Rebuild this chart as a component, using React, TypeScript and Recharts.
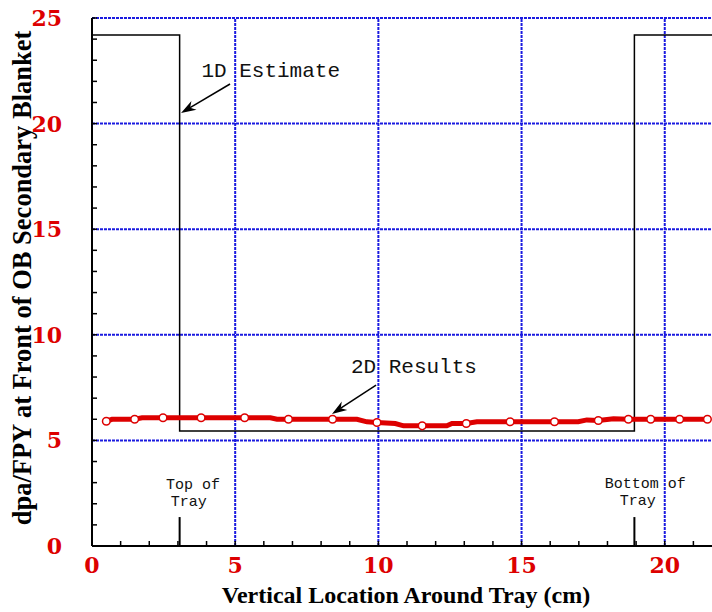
import React from "react"
import { LineChart, Line, XAxis, YAxis, ReferenceLine, ReferenceDot, Label } from "recharts"

// 1D estimate (step profile)
const oneDX = [0, 3.06, 18.94, 21.65]
const oneDY = [24.2, 5.45, 24.2, 24.2]

// 2D results, polyline vertices
const twoDX = [0.5, 0.7, 1.49, 1.75, 2.48, 3.81, 5.33, 6.23, 6.46, 6.86, 8.4, 9.25, 9.6, 9.95, 10.59, 10.88, 11.53, 12.39, 12.57, 13.07, 13.44, 14.6, 16.15, 16.98, 17.28, 17.68, 18.21, 18.73, 19.51, 20.52, 21.49]
const twoDY = [5.91, 6.0, 6.0, 6.07, 6.07, 6.07, 6.07, 6.07, 6.0, 6.0, 6.0, 6.0, 5.88, 5.85, 5.8, 5.69, 5.69, 5.69, 5.8, 5.8, 5.88, 5.88, 5.88, 5.88, 5.97, 5.94, 6.02, 6.0, 6.0, 6.0, 6.0]

// 2D results, marked points
const markX = [0.5, 1.49, 2.48, 3.81, 5.33, 6.86, 8.4, 9.95, 11.53, 13.07, 14.6, 16.15, 17.68, 18.73, 19.51, 20.52, 21.49]
const markY = [5.91, 6.0, 6.07, 6.07, 6.07, 6.0, 6.0, 5.85, 5.69, 5.8, 5.88, 5.88, 5.94, 6.0, 6.0, 6.0, 6.0]

const xTickLabels = [0, 5, 10, 15, 20]
const yTickLabels = [0, 5, 10, 15, 20, 25]
const xMinor = [0, 1, 2, 3, 4, 5, 6, 7, 8, 9, 10, 11, 12, 13, 14, 15, 16, 17, 18, 19, 20, 21]
const yMinor = [0, 1, 2, 3, 4, 5, 6, 7, 8, 9, 10, 11, 12, 13, 14, 15, 16, 17, 18, 19, 20, 21, 22, 23, 24, 25]
const xGrid = [0, 5, 10, 15, 20]
const yGrid = [0, 5, 10, 15, 20, 25]

// annotations (data coordinates)
const noteTexts = ["1D Estimate", "2D Results"]
const noteX = [3.82, 9.04]
const noteY = [22.2, 8.19]
const arrowFrom = [[4.82, 21.875], [9.92, 7.62]]
const arrowTo = [[3.11, 20.5], [8.38, 6.25]]

const trayEdgeX = [3.06, 18.94]
const trayMarkTop = 1.37
const trayTexts = ["Top of", "Tray", "Bottom of", "Tray"]
const trayTextX = [3.53, 3.38, 19.32, 19.06]
const trayTextY = [2.72, 1.91, 2.76, 1.95]

const oneD = oneDX.map((x, i) => ({ x, y: oneDY[i] }))
const twoD = twoDX.map((x, i) => ({ x, y: twoDY[i] }))
const marks = markX.map((x, i) => ({ x, y: markY[i] }))

const red = "#dd0000"
const gridBlue = "#1a1ae0"
const tickFont = { fontFamily: "DejaVu Serif", fontWeight: 700, fontSize: 22, fill: red }
const titleFont = { fontFamily: "Liberation Serif", fontWeight: 700, fill: "#000" }
const monoFont = { fontFamily: "Liberation Mono", fill: "#111" }

const XTick = (p: any) => {
  const { x, y, payload } = p
  return (
    <g>
      <line x1={x} y1={y} x2={x} y2={y - 5} stroke="#000" strokeWidth={1.5} />
      {xTickLabels.includes(payload.value) && (
        <text x={x} y={y + 27} textAnchor="middle" style={tickFont}>{payload.value}</text>
      )}
    </g>
  )
}

const TopTick = (p: any) => {
  const { x, y } = p
  return <line x1={x} y1={y} x2={x} y2={y + 5} stroke="#000" strokeWidth={1.5} />
}

const YTick = (p: any) => {
  const { x, y, payload } = p
  return (
    <g>
      <line x1={x} y1={y} x2={x + 5} y2={y} stroke="#000" strokeWidth={1.5} />
      {yTickLabels.includes(payload.value) && (
        <text x={x - 30} y={y + 8} textAnchor="end" style={tickFont}>{payload.value}</text>
      )}
    </g>
  )
}

const XTitle = (p: any) => {
  const vb = p.viewBox || { x: 92, y: 546, width: 620, height: 66 }
  const cx = vb.x + vb.width / 2 + 4
  return (
    <text x={cx} y={vb.y + vb.height - 9} textAnchor="middle" style={{ ...titleFont, fontSize: 24 }}>
      Vertical Location Around Tray (cm)
    </text>
  )
}

const YTitle = (p: any) => {
  const vb = p.viewBox || { x: 0, y: 18, width: 92, height: 528 }
  const bx = vb.x + 31
  const cy = vb.y + vb.height / 2 - 4
  return (
    <text x={bx} y={cy} transform={`rotate(-90, ${bx}, ${cy})`} textAnchor="middle" style={{ ...titleFont, fontSize: 26.5 }}>
      dpa/FPY at Front of OB Secondary Blanket
    </text>
  )
}

const Arrow = (p: any) => {
  const { x1, y1, x2, y2 } = p
  const a = Math.atan2(y2 - y1, x2 - x1)
  const c = Math.cos(a), s = Math.sin(a)
  const len = 15, half = 5
  const bx = x2 - len * c, by = y2 - len * s
  const nx = x2 - len * 0.7 * c, ny = y2 - len * 0.7 * s
  const pts = `${x2},${y2} ${bx - half * s},${by + half * c} ${nx},${ny} ${bx + half * s},${by - half * c}`
  return (
    <g>
      <line x1={x1} y1={y1} x2={nx} y2={ny} stroke="#000" strokeWidth={1.5} />
      <polygon points={pts} fill="#000" />
    </g>
  )
}

const noteShape = (text: string, size: number, anchor: string) => (p: any) => (
  <text x={p.cx} y={p.cy} textAnchor={anchor} style={{ ...monoFont, fontSize: size }}>{text}</text>
)

const Marker = (p: any) => (
  <circle cx={p.cx} cy={p.cy} r={3.8} fill="#fff" stroke={red} strokeWidth={1.5} />
)

export default function App() {
  return (
    <div style={{ position: "absolute", left: 0, top: 0, background: "#fff" }}>
      <LineChart width={712} height={612} margin={{ top: 18, right: 0, bottom: 0, left: 0 }}>
        <XAxis
          dataKey="x"
          type="number"
          domain={[0, 21.65]}
          allowDataOverflow
          ticks={xMinor}
          interval={0}
          tick={<XTick />}
          tickLine={false}
          tickSize={0}
          tickMargin={0}
          height={66}
          axisLine={{ stroke: "#000", strokeWidth: 2 }}
        >
          <Label content={<XTitle />} />
        </XAxis>
        <XAxis
          xAxisId="top"
          orientation="top"
          dataKey="x"
          type="number"
          domain={[0, 21.65]}
          allowDataOverflow
          ticks={xMinor}
          interval={0}
          tick={<TopTick />}
          tickLine={false}
          tickSize={0}
          tickMargin={0}
          height={0}
          axisLine={{ stroke: "#000", strokeWidth: 1.5 }}
        />
        <YAxis
          type="number"
          domain={[0, 25]}
          allowDataOverflow
          ticks={yMinor}
          interval={0}
          tick={<YTick />}
          tickLine={false}
          tickSize={0}
          tickMargin={0}
          width={92}
          axisLine={{ stroke: "#000", strokeWidth: 2 }}
        >
          <Label content={<YTitle />} />
        </YAxis>

        {xGrid.map((v) => (
          <ReferenceLine key={"gx" + v} x={v} stroke={gridBlue} strokeWidth={2} strokeDasharray="3 1" />
        ))}
        {yGrid.map((v) => (
          <ReferenceLine key={"gy" + v} y={v} stroke={gridBlue} strokeWidth={2} strokeDasharray="3 1" />
        ))}

        <Line data={oneD} dataKey="y" type="stepAfter" stroke="#000" strokeWidth={1.5} dot={false} isAnimationActive={false} />
        <Line data={twoD} dataKey="y" type="linear" stroke={red} strokeWidth={5} dot={false} isAnimationActive={false} />
        <Line data={marks} dataKey="y" stroke="none" dot={<Marker />} activeDot={false} isAnimationActive={false} />

        {trayEdgeX.map((v) => (
          <ReferenceLine key={"te" + v} segment={[{ x: v, y: 0 }, { x: v, y: trayMarkTop }]} stroke="#000" strokeWidth={2} />
        ))}
        {trayTexts.map((t, i) => (
          <ReferenceDot key={"tt" + i} x={trayTextX[i]} y={trayTextY[i]} r={0} shape={noteShape(t, 15, "middle")} />
        ))}
        {noteTexts.map((t, i) => (
          <ReferenceDot key={"nt" + i} x={noteX[i]} y={noteY[i]} r={0} shape={noteShape(t, 21, "start")} />
        ))}
        {arrowFrom.map((f, i) => (
          <ReferenceLine
            key={"ar" + i}
            segment={[{ x: f[0], y: f[1] }, { x: arrowTo[i][0], y: arrowTo[i][1] }]}
            shape={<Arrow />}
          />
        ))}
      </LineChart>
    </div>
  )
}
